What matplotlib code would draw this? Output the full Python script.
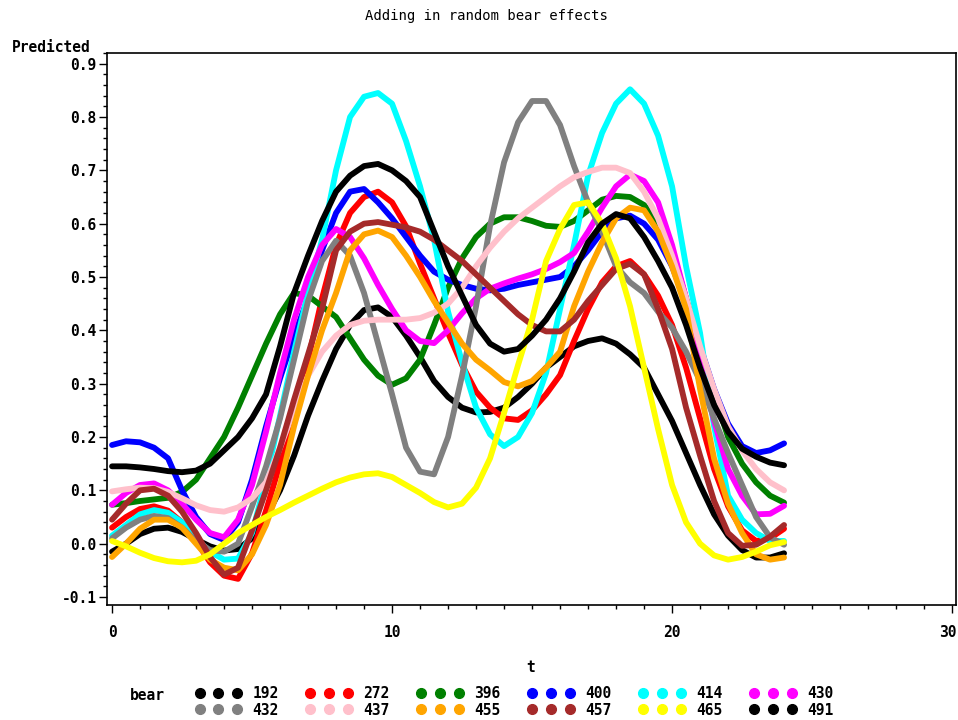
import numpy as np
import matplotlib
matplotlib.use("Agg")
import matplotlib.pyplot as plt
import matplotlib.transforms as mtransforms
from matplotlib.lines import Line2D
from matplotlib.ticker import MultipleLocator

# time grid (hours), values read at every half unit
t = np.arange(0, 24.5, 0.5)

bears = ["192", "272", "396", "400", "414", "430",
         "432", "437", "455", "457", "465", "491"]
colors = ["#000000", "#FF0000", "#008000", "#0000FF", "#00FFFF", "#FF00FF",
          "#808080", "#FFC0CB", "#FFA500", "#A52A2A", "#FFFF00", "#000000"]

b192 = [-0.015, 0.0, 0.018, 0.028, 0.03, 0.022, 0.008, -0.005, -0.013, -0.01,
        0.01, 0.05, 0.1, 0.165, 0.24, 0.305, 0.365, 0.41, 0.438, 0.443,
        0.425, 0.39, 0.35, 0.305, 0.275, 0.255, 0.246, 0.247, 0.255, 0.275,
        0.3, 0.33, 0.35, 0.37, 0.38, 0.385, 0.375, 0.355, 0.33, 0.28,
        0.23, 0.17, 0.11, 0.055, 0.015, -0.012, -0.026, -0.026, -0.018]
b272 = [0.03, 0.05, 0.065, 0.07, 0.062, 0.04, 0.005, -0.035, -0.06, -0.066,
        -0.018, 0.062, 0.15, 0.245, 0.345, 0.46, 0.56, 0.62, 0.65, 0.66,
        0.64, 0.595, 0.525, 0.46, 0.395, 0.335, 0.285, 0.255, 0.235, 0.232,
        0.25, 0.28, 0.316, 0.38, 0.44, 0.49, 0.52, 0.53, 0.505, 0.465,
        0.41, 0.33, 0.235, 0.14, 0.07, 0.025, 0.005, 0.01, 0.028]
b396 = [0.073, 0.076, 0.08, 0.083, 0.086, 0.097, 0.12, 0.16, 0.2, 0.255,
        0.315, 0.375, 0.43, 0.47, 0.465, 0.445, 0.425, 0.385, 0.345, 0.315,
        0.298, 0.31, 0.345, 0.41, 0.48, 0.535, 0.575, 0.6, 0.612, 0.612,
        0.605, 0.596, 0.594, 0.605, 0.625, 0.645, 0.652, 0.65, 0.635, 0.6,
        0.55, 0.46, 0.37, 0.28, 0.2, 0.15, 0.115, 0.09, 0.077]
b400 = [0.185, 0.192, 0.19, 0.18, 0.16, 0.1, 0.05, 0.018, 0.007, 0.04,
        0.12, 0.22, 0.31, 0.39, 0.46, 0.55, 0.62, 0.66, 0.665, 0.64,
        0.61, 0.575, 0.54, 0.51, 0.495, 0.485, 0.478, 0.475, 0.478, 0.485,
        0.49, 0.495, 0.5, 0.52, 0.55, 0.585, 0.61, 0.615, 0.6, 0.57,
        0.52, 0.45, 0.37, 0.29, 0.225, 0.183, 0.17, 0.175, 0.188]
b414 = [0.015, 0.035, 0.055, 0.063, 0.058, 0.04, 0.01, -0.015, -0.03, -0.028,
        0.02, 0.12, 0.24, 0.36, 0.47, 0.57, 0.7, 0.8, 0.838, 0.845,
        0.825, 0.755, 0.67, 0.57, 0.435, 0.34, 0.255, 0.205, 0.183, 0.2,
        0.245, 0.32, 0.44, 0.56, 0.69, 0.77, 0.825, 0.852, 0.825, 0.765,
        0.67, 0.52, 0.395, 0.22, 0.09, 0.045, 0.02, 0.005, 0.005]
b430 = [0.073, 0.095, 0.11, 0.113, 0.1, 0.075, 0.045, 0.02, 0.012, 0.045,
        0.11, 0.21, 0.32, 0.42, 0.5, 0.56, 0.59, 0.575, 0.535, 0.485,
        0.44, 0.4, 0.38, 0.376, 0.4, 0.432, 0.46, 0.478, 0.488, 0.497,
        0.505, 0.515, 0.528, 0.545, 0.585, 0.63, 0.67, 0.692, 0.68, 0.64,
        0.56, 0.46, 0.34, 0.23, 0.14, 0.09, 0.055, 0.056, 0.071]
b432 = [0.01, 0.03, 0.045, 0.052, 0.048, 0.03, 0.005, -0.012, -0.015, 0.0,
        0.07, 0.145, 0.235, 0.345, 0.455, 0.53, 0.568, 0.54, 0.47, 0.375,
        0.28, 0.18, 0.135, 0.13, 0.2, 0.315, 0.445, 0.596, 0.715, 0.79,
        0.83, 0.83, 0.785, 0.708, 0.64, 0.585, 0.52, 0.49, 0.47, 0.435,
        0.405, 0.36, 0.305, 0.235, 0.17, 0.11, 0.05, 0.012, -0.002]
b437 = [0.098, 0.102, 0.105, 0.104, 0.097, 0.085, 0.072, 0.063, 0.06, 0.068,
        0.085, 0.115, 0.18, 0.25, 0.315, 0.36, 0.39, 0.41, 0.418, 0.42,
        0.42, 0.42, 0.423, 0.433, 0.45, 0.48, 0.52, 0.555, 0.585, 0.61,
        0.63, 0.65, 0.67, 0.687, 0.697, 0.705, 0.705, 0.695, 0.66, 0.61,
        0.54, 0.46, 0.37, 0.29, 0.22, 0.175, 0.14, 0.115, 0.1]
b455 = [-0.025, 0.0, 0.028, 0.045, 0.045, 0.03, 0.0, -0.03, -0.045, -0.05,
        -0.02, 0.035, 0.11, 0.22, 0.315, 0.4, 0.47, 0.55, 0.58, 0.587,
        0.575, 0.54, 0.5, 0.455, 0.415, 0.375, 0.345, 0.325, 0.303, 0.295,
        0.305, 0.33, 0.36, 0.445, 0.51, 0.565, 0.61, 0.63, 0.625, 0.585,
        0.52, 0.44, 0.29, 0.16, 0.075, 0.02, -0.02, -0.03, -0.026]
b457 = [0.045, 0.075, 0.1, 0.103, 0.09, 0.06, 0.02, -0.025, -0.058, -0.045,
        0.025, 0.1, 0.18, 0.27, 0.355, 0.44, 0.55, 0.585, 0.6, 0.603,
        0.598, 0.593, 0.585, 0.57, 0.55, 0.53, 0.505, 0.48, 0.455, 0.43,
        0.41, 0.398, 0.398, 0.42, 0.455, 0.485, 0.515, 0.525, 0.505, 0.44,
        0.365, 0.255, 0.165, 0.08, 0.02, -0.004, -0.002, 0.013, 0.035]
b465 = [0.005, -0.005, -0.017, -0.027, -0.033, -0.035, -0.032, -0.02, 0.0, 0.02,
        0.035, 0.05, 0.063, 0.077, 0.09, 0.103, 0.115, 0.124, 0.13, 0.132,
        0.125, 0.11, 0.095, 0.078, 0.068, 0.075, 0.105, 0.16, 0.245, 0.335,
        0.42, 0.53, 0.59, 0.635, 0.64, 0.6, 0.535, 0.445, 0.33, 0.215,
        0.11, 0.04, 0.0, -0.022, -0.03, -0.025, -0.015, -0.003, 0.003]
b491 = [0.145, 0.145, 0.143, 0.14, 0.136, 0.134, 0.137, 0.15, 0.175, 0.2,
        0.235, 0.28, 0.37, 0.47, 0.54, 0.605, 0.66, 0.69, 0.708, 0.712,
        0.7, 0.68, 0.65, 0.585, 0.52, 0.465, 0.41, 0.375, 0.36, 0.365,
        0.39, 0.42, 0.46, 0.51, 0.565, 0.6, 0.618, 0.61, 0.575, 0.53,
        0.48, 0.41, 0.33, 0.26, 0.21, 0.178, 0.163, 0.152, 0.147]

series = [b192, b272, b396, b400, b414, b430, b432, b437, b455, b457, b465, b491]

FONT = "DejaVu Sans Mono"
W, H = 958, 720

fig = plt.figure(figsize=(W / 100, H / 100), dpi=100)
ax = fig.add_axes([107 / W, 1 - 605 / H, (956 - 107) / W, (605 - 53) / H])

for vals, c in zip(series, colors):
    ax.plot(t, vals, color=c, lw=4.2, solid_capstyle="round", solid_joinstyle="round")

ax.set_xlim(-0.18, 30.14)
ax.set_ylim(-0.115, 0.92)
ax.set_xticks([0, 10, 20, 30])
ax.xaxis.set_minor_locator(MultipleLocator(1))
ax.yaxis.set_major_locator(MultipleLocator(0.1))
ax.yaxis.set_minor_locator(MultipleLocator(0.02))
ax.yaxis.set_major_formatter(plt.FuncFormatter(lambda v, p: f"{v:.1f}"))
ax.tick_params(which="major", direction="out", length=5.5, width=1, pad=2,
               labelsize=10.5, labelfontfamily=FONT)
ax.tick_params(which="minor", direction="out", length=3, width=1)
ax.tick_params(axis="x", pad=9)
for tk in ax.xaxis.get_major_ticks() + ax.yaxis.get_major_ticks():
    tk.label1.set_fontweight("bold")
# SAS keeps the last x label inside the frame
last = ax.xaxis.get_major_ticks()[-1].label1
last.set_horizontalalignment("right")
last.set_transform(last.get_transform() + mtransforms.ScaledTranslation(4 / 100, 0, fig.dpi_scale_trans))
for s in ax.spines.values():
    s.set_linewidth(1.2)

txt = dict(fontfamily=FONT, fontweight="bold", fontsize=10.5)
fig.text(486 / W, 1 - 16 / H, "Adding in random bear effects", ha="center", va="center",
         fontfamily=FONT, fontsize=10)
fig.text(12 / W, 1 - 48 / H, "Predicted", ha="left", va="center", **txt)
fig.text(531 / W, 1 - 668 / H, "t", ha="center", va="center", **txt)
fig.text(130 / W, 1 - 695 / H, "bear", ha="left", va="center", **txt)

# legend: column-major fill, so interleave the two rows
order = [0, 6, 1, 7, 2, 8, 3, 9, 4, 10, 5, 11]
handles = [Line2D([], [], ls="none", marker="o", ms=7, color=colors[i]) for i in order]
labels = [bears[i] for i in order]
fig.legend(handles, labels, ncol=6, loc="upper left", bbox_to_anchor=(182 / W, 1 - 673 / H),
           frameon=False, numpoints=3, handlelength=3.2, handletextpad=0.75,
           columnspacing=1.85, labelspacing=0.1, borderpad=0.4,
           prop=dict(family=FONT, weight="bold", size=10.5))

fig.savefig("out.png", dpi=100)
